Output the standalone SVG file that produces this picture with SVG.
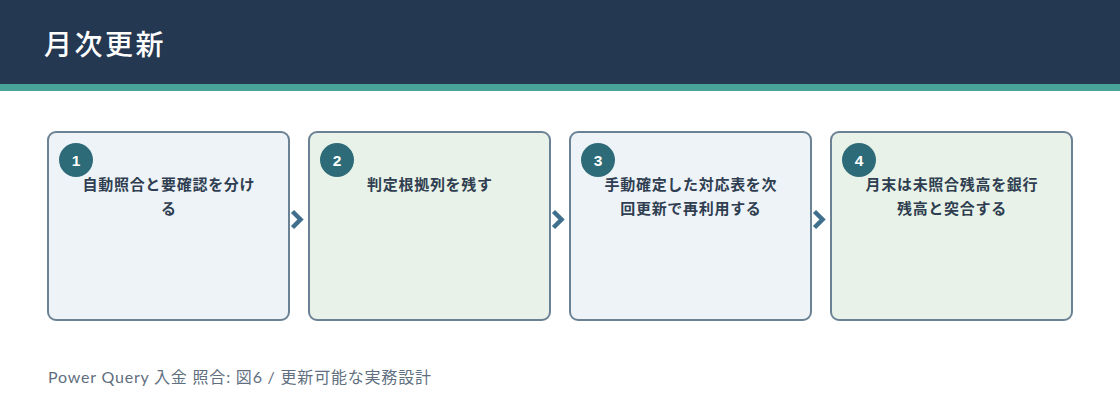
<svg xmlns="http://www.w3.org/2000/svg" width="1120" height="420" viewBox="0 0 1120 420">
<style>
.box{stroke:#6b8294;stroke-width:2}
.b1{fill:#eef3f8}
.b2{fill:#e8f2e8}
.num{fill:#2e6b78}
.nt{font-family:"Liberation Sans","Noto Sans CJK JP",sans-serif;font-size:15.5px;font-weight:bold;fill:#ffffff;text-anchor:middle}
.lbl{font-family:"Noto Sans CJK JP",sans-serif;font-size:15px;font-weight:bold;fill:#2f3e50;text-anchor:middle;letter-spacing:0.7px}
.arr{fill:none;stroke:#3f6f8c;stroke-width:4.5;stroke-linejoin:miter}
</style>
<rect x="0" y="0" width="1120" height="420" fill="#ffffff"/>
<rect x="0" y="0" width="1120" height="84" fill="#253852"/>
<rect x="0" y="84" width="1120" height="7" fill="#4aa39a"/>
<text x="44" y="55" font-family="Noto Sans CJK JP,sans-serif" font-size="28" font-weight="500" fill="#ffffff" letter-spacing="2.5">月次更新</text>
<g id="connectors">
<path class="arr" d="M292.5 211.5 L300.5 219.5 L292.5 227.5"/>
<path class="arr" d="M553.5 211.5 L561.5 219.5 L553.5 227.5"/>
<path class="arr" d="M814.5 211.5 L822.5 219.5 L814.5 227.5"/>
</g>
<g id="node1">
<rect class="box b1" x="48" y="132" width="241" height="188" rx="8"/>
<circle class="num" cx="76" cy="160" r="17"/>
<text class="nt" x="76" y="165.5">1</text>
<text class="lbl" x="168.9" y="189.5">自動照合と要確認を分け</text>
<text class="lbl" x="168.9" y="213.5">る</text>
</g>
<g id="node2">
<rect class="box b2" x="309" y="132" width="241" height="188" rx="8"/>
<circle class="num" cx="337" cy="160" r="17"/>
<text class="nt" x="337" y="165.5">2</text>
<text class="lbl" x="429.9" y="189.5">判定根拠列を残す</text>
</g>
<g id="node3">
<rect class="box b1" x="570" y="132" width="241" height="188" rx="8"/>
<circle class="num" cx="598" cy="160" r="17"/>
<text class="nt" x="598" y="165.5">3</text>
<text class="lbl" x="690.9" y="189.5">手動確定した対応表を次</text>
<text class="lbl" x="690.9" y="213.5">回更新で再利用する</text>
</g>
<g id="node4">
<rect class="box b2" x="831" y="132" width="241" height="188" rx="8"/>
<circle class="num" cx="859" cy="160" r="17"/>
<text class="nt" x="859" y="165.5">4</text>
<text class="lbl" x="951.9" y="189.5">月末は未照合残高を銀行</text>
<text class="lbl" x="951.9" y="213.5">残高と突合する</text>
</g>
<text x="48" y="383" font-family="Lato,Noto Sans CJK JP,sans-serif" font-size="16" fill="#5f6f80" letter-spacing="0.8">Power Query 入金 照合: 図6 / 更新可能な実務設計</text>
</svg>
